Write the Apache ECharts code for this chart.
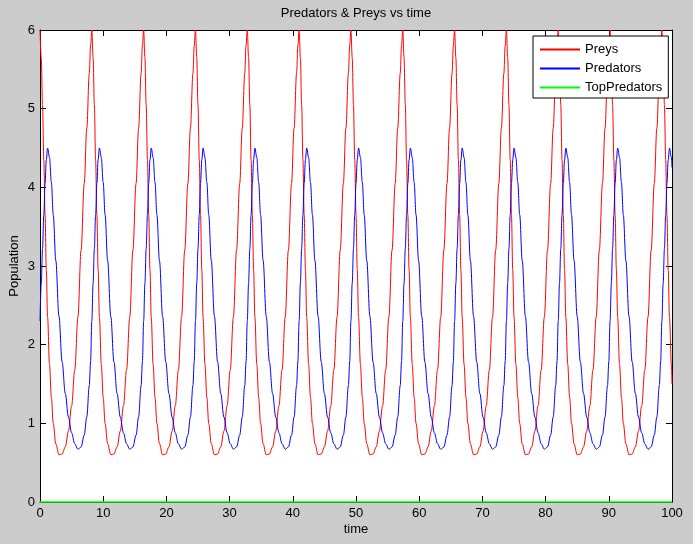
<!DOCTYPE html>
<html>
<head>
<meta charset="utf-8">
<script src="https://cdn.jsdelivr.net/npm/echarts@6/dist/echarts.min.js"></script>
<style>
html, body { margin: 0; padding: 0; background: #cccccc; }
#chart { width: 693px; height: 544px; }
</style>
</head>
<body>
<div id="chart"></div>
<script>
// ---- data ----
const titleText = 'Predators & Preys vs time';
const xName = 'time';
const yName = 'Population';
const seriesNames = ['Preys', 'Predators', 'TopPredators'];
const seriesColors = ['#ff0000', '#0000ff', '#00ff00'];
const xTicks = [0, 10, 20, 30, 40, 50, 60, 70, 80, 90, 100];
const yTicks = [0, 1, 2, 3, 4, 5, 6];

const time = [
  0, 0.2, 0.4, 0.6, 0.8, 1, 1.2, 1.5, 1.8, 2.1, 2.5, 3, 3.5, 4, 4.5, 5, 5.5, 6, 6.5, 7, 7.4, 7.8, 8,
  8.2, 8.4, 8.6, 8.8, 9, 9.2, 9.4, 9.7, 10, 10.3, 10.7, 11.2, 11.7, 12.2, 12.7, 13.2, 13.7, 14.2, 14.7, 15.2, 15.6, 16, 16.2,
  16.4, 16.6, 16.8, 17, 17.2, 17.4, 17.6, 17.9, 18.2, 18.5, 18.9, 19.4, 19.9, 20.4, 20.9, 21.4, 21.9, 22.4, 22.9, 23.4, 23.8, 24.2, 24.4,
  24.6, 24.8, 25, 25.2, 25.4, 25.6, 25.8, 26.1, 26.4, 26.7, 27.1, 27.6, 28.1, 28.6, 29.1, 29.6, 30.1, 30.6, 31.1, 31.6, 32, 32.4, 32.6,
  32.8, 33, 33.2, 33.4, 33.6, 33.8, 34, 34.3, 34.6, 34.9, 35.3, 35.8, 36.3, 36.8, 37.3, 37.8, 38.3, 38.8, 39.3, 39.8, 40.2, 40.6, 40.8,
  41, 41.2, 41.4, 41.6, 41.8, 42, 42.2, 42.5, 42.8, 43.1, 43.5, 44, 44.5, 45, 45.5, 46, 46.5, 47, 47.5, 48, 48.4, 48.8, 49,
  49.2, 49.4, 49.6, 49.8, 50, 50.2, 50.4, 50.7, 51, 51.3, 51.7, 52.2, 52.7, 53.2, 53.7, 54.2, 54.7, 55.2, 55.7, 56.2, 56.6, 57, 57.2,
  57.4, 57.6, 57.8, 58, 58.2, 58.4, 58.6, 58.9, 59.2, 59.5, 59.9, 60.4, 60.9, 61.4, 61.9, 62.4, 62.9, 63.4, 63.9, 64.4, 64.8, 65.2, 65.4,
  65.6, 65.8, 66, 66.2, 66.4, 66.6, 66.8, 67.1, 67.4, 67.7, 68.1, 68.6, 69.1, 69.6, 70.1, 70.6, 71.1, 71.6, 72.1, 72.6, 73, 73.4, 73.6,
  73.8, 74, 74.2, 74.4, 74.6, 74.8, 75, 75.3, 75.6, 75.9, 76.3, 76.8, 77.3, 77.8, 78.3, 78.8, 79.3, 79.8, 80.3, 80.8, 81.2, 81.6, 81.8,
  82, 82.2, 82.4, 82.6, 82.8, 83, 83.2, 83.5, 83.8, 84.1, 84.5, 85, 85.5, 86, 86.5, 87, 87.5, 88, 88.5, 89, 89.4, 89.8, 90,
  90.2, 90.4, 90.6, 90.8, 91, 91.2, 91.4, 91.7, 92, 92.3, 92.7, 93.2, 93.7, 94.2, 94.7, 95.2, 95.7, 96.2, 96.7, 97.2, 97.6, 98, 98.2,
  98.4, 98.6, 98.8, 99, 99.2, 99.4, 99.6, 99.9, 100
];

const preys = [
  6.00, 5.65, 5.05, 4.35, 3.65, 2.95, 2.35, 1.75, 1.33, 1.00, 0.74, 0.60, 0.61, 0.70, 0.90, 1.22, 1.68, 2.35, 3.20, 4.05, 4.75, 5.45, 5.80,
  6.00, 5.65, 5.05, 4.35, 3.65, 2.95, 2.35, 1.75, 1.33, 1.00, 0.74, 0.60, 0.61, 0.70, 0.90, 1.22, 1.68, 2.35, 3.20, 4.05, 4.75, 5.45, 5.80,
  6.00, 5.65, 5.05, 4.35, 3.65, 2.95, 2.35, 1.75, 1.33, 1.00, 0.74, 0.60, 0.61, 0.70, 0.90, 1.22, 1.68, 2.35, 3.20, 4.05, 4.75, 5.45, 5.80,
  6.00, 5.65, 5.05, 4.35, 3.65, 2.95, 2.35, 1.75, 1.33, 1.00, 0.74, 0.60, 0.61, 0.70, 0.90, 1.22, 1.68, 2.35, 3.20, 4.05, 4.75, 5.45, 5.80,
  6.00, 5.65, 5.05, 4.35, 3.65, 2.95, 2.35, 1.75, 1.33, 1.00, 0.74, 0.60, 0.61, 0.70, 0.90, 1.22, 1.68, 2.35, 3.20, 4.05, 4.75, 5.45, 5.80,
  6.00, 5.65, 5.05, 4.35, 3.65, 2.95, 2.35, 1.75, 1.33, 1.00, 0.74, 0.60, 0.61, 0.70, 0.90, 1.22, 1.68, 2.35, 3.20, 4.05, 4.75, 5.45, 5.80,
  6.00, 5.65, 5.05, 4.35, 3.65, 2.95, 2.35, 1.75, 1.33, 1.00, 0.74, 0.60, 0.61, 0.70, 0.90, 1.22, 1.68, 2.35, 3.20, 4.05, 4.75, 5.45, 5.80,
  6.00, 5.65, 5.05, 4.35, 3.65, 2.95, 2.35, 1.75, 1.33, 1.00, 0.74, 0.60, 0.61, 0.70, 0.90, 1.22, 1.68, 2.35, 3.20, 4.05, 4.75, 5.45, 5.80,
  6.00, 5.65, 5.05, 4.35, 3.65, 2.95, 2.35, 1.75, 1.33, 1.00, 0.74, 0.60, 0.61, 0.70, 0.90, 1.22, 1.68, 2.35, 3.20, 4.05, 4.75, 5.45, 5.80,
  6.00, 5.65, 5.05, 4.35, 3.65, 2.95, 2.35, 1.75, 1.33, 1.00, 0.74, 0.60, 0.61, 0.70, 0.90, 1.22, 1.68, 2.35, 3.20, 4.05, 4.75, 5.45, 5.80,
  6.00, 5.65, 5.05, 4.35, 3.65, 2.95, 2.35, 1.75, 1.33, 1.00, 0.74, 0.60, 0.61, 0.70, 0.90, 1.22, 1.68, 2.35, 3.20, 4.05, 4.75, 5.45, 5.80,
  6.00, 5.65, 5.05, 4.35, 3.65, 2.95, 2.35, 1.75, 1.33, 1.00, 0.74, 0.60, 0.61, 0.70, 0.90, 1.22, 1.68, 2.35, 3.20, 4.05, 4.75, 5.45, 5.80,
  6.00, 5.65, 5.05, 4.35, 3.65, 2.95, 2.35, 1.75, 1.50
];

const predators = [
  2.30, 2.78, 3.22, 3.65, 4.05, 4.35, 4.50, 4.38, 4.06, 3.65, 3.07, 2.36, 1.78, 1.38, 1.08, 0.88, 0.74, 0.67, 0.70, 0.85, 1.08, 1.48, 1.78,
  2.30, 2.78, 3.22, 3.65, 4.05, 4.35, 4.50, 4.38, 4.06, 3.65, 3.07, 2.36, 1.78, 1.38, 1.08, 0.88, 0.74, 0.67, 0.70, 0.85, 1.08, 1.48, 1.78,
  2.30, 2.78, 3.22, 3.65, 4.05, 4.35, 4.50, 4.38, 4.06, 3.65, 3.07, 2.36, 1.78, 1.38, 1.08, 0.88, 0.74, 0.67, 0.70, 0.85, 1.08, 1.48, 1.78,
  2.30, 2.78, 3.22, 3.65, 4.05, 4.35, 4.50, 4.38, 4.06, 3.65, 3.07, 2.36, 1.78, 1.38, 1.08, 0.88, 0.74, 0.67, 0.70, 0.85, 1.08, 1.48, 1.78,
  2.30, 2.78, 3.22, 3.65, 4.05, 4.35, 4.50, 4.38, 4.06, 3.65, 3.07, 2.36, 1.78, 1.38, 1.08, 0.88, 0.74, 0.67, 0.70, 0.85, 1.08, 1.48, 1.78,
  2.30, 2.78, 3.22, 3.65, 4.05, 4.35, 4.50, 4.38, 4.06, 3.65, 3.07, 2.36, 1.78, 1.38, 1.08, 0.88, 0.74, 0.67, 0.70, 0.85, 1.08, 1.48, 1.78,
  2.30, 2.78, 3.22, 3.65, 4.05, 4.35, 4.50, 4.38, 4.06, 3.65, 3.07, 2.36, 1.78, 1.38, 1.08, 0.88, 0.74, 0.67, 0.70, 0.85, 1.08, 1.48, 1.78,
  2.30, 2.78, 3.22, 3.65, 4.05, 4.35, 4.50, 4.38, 4.06, 3.65, 3.07, 2.36, 1.78, 1.38, 1.08, 0.88, 0.74, 0.67, 0.70, 0.85, 1.08, 1.48, 1.78,
  2.30, 2.78, 3.22, 3.65, 4.05, 4.35, 4.50, 4.38, 4.06, 3.65, 3.07, 2.36, 1.78, 1.38, 1.08, 0.88, 0.74, 0.67, 0.70, 0.85, 1.08, 1.48, 1.78,
  2.30, 2.78, 3.22, 3.65, 4.05, 4.35, 4.50, 4.38, 4.06, 3.65, 3.07, 2.36, 1.78, 1.38, 1.08, 0.88, 0.74, 0.67, 0.70, 0.85, 1.08, 1.48, 1.78,
  2.30, 2.78, 3.22, 3.65, 4.05, 4.35, 4.50, 4.38, 4.06, 3.65, 3.07, 2.36, 1.78, 1.38, 1.08, 0.88, 0.74, 0.67, 0.70, 0.85, 1.08, 1.48, 1.78,
  2.30, 2.78, 3.22, 3.65, 4.05, 4.35, 4.50, 4.38, 4.06, 3.65, 3.07, 2.36, 1.78, 1.38, 1.08, 0.88, 0.74, 0.67, 0.70, 0.85, 1.08, 1.48, 1.78,
  2.30, 2.78, 3.22, 3.65, 4.05, 4.35, 4.50, 4.38, 4.25
];

const topTime = [0, 100];
const topPredators = [0, 0];

// ---- chart ----
const FONT = '"Liberation Sans", Arial, sans-serif';
const pairs = (xs, ys) => xs.map((x, i) => [x, ys[i]]);

const xMin = xTicks[0], xMax = xTicks[xTicks.length - 1], xStep = xTicks[1] - xTicks[0];
const yMin = yTicks[0], yMax = yTicks[yTicks.length - 1], yStep = yTicks[1] - yTicks[0];

const axisCommon = {
  z: 0,
  axisLine: { show: true, onZero: false, lineStyle: { color: '#000', width: 1 } },
  axisTick: { show: true, inside: true, length: 6, lineStyle: { color: '#000', width: 1 } },
  splitLine: { show: false },
  axisLabel: { color: '#000', fontFamily: FONT, fontSize: 13, margin: 5 }
};

const chart = echarts.init(document.getElementById('chart'), null, { renderer: 'canvas' });
chart.setOption({
  animation: false,
  backgroundColor: '#cccccc',
  graphic: [{
    type: 'text',
    x: 356, y: 13,
    style: {
      text: titleText,
      fill: '#000',
      font: '13px ' + FONT,
      align: 'center',
      verticalAlign: 'middle'
    }
  }],
  grid: {
    left: 40, top: 30, width: 632, height: 472,
    containLabel: false, outerBoundsMode: 'none',
    show: true, backgroundColor: '#ffffff', borderWidth: 0
  },
  legend: {
    left: 533, top: 36,
    orient: 'vertical',
    backgroundColor: '#ffffff',
    borderColor: '#000000',
    borderWidth: 1,
    borderRadius: 0,
    padding: [6, 6, 3, 7],
    itemGap: 4,
    itemWidth: 40,
    itemHeight: 2,
    textStyle: { color: '#000', fontFamily: FONT, fontSize: 13, lineHeight: 15 },
    data: seriesNames.map((n, i) => ({
      name: n,
      icon: 'rect',
      itemStyle: { color: seriesColors[i], borderWidth: 0, opacity: 1 },
      lineStyle: { width: 0 }
    }))
  },
  xAxis: [
    Object.assign({}, axisCommon, {
      type: 'value', min: xMin, max: xMax, interval: xStep, position: 'bottom',
      name: xName, nameLocation: 'middle', nameGap: 21, nameMoveOverlap: false,
      nameTextStyle: { color: '#000', fontFamily: FONT, fontSize: 13 }
    }),
    Object.assign({}, axisCommon, {
      type: 'value', min: xMin, max: xMax, interval: xStep, position: 'top',
      axisLabel: { show: false }
    })
  ],
  yAxis: [
    Object.assign({}, axisCommon, {
      type: 'value', min: yMin, max: yMax, interval: yStep, position: 'left',
      name: yName, nameLocation: 'middle', nameGap: 19, nameMoveOverlap: false,
      nameTextStyle: { color: '#000', fontFamily: FONT, fontSize: 13 }
    }),
    Object.assign({}, axisCommon, {
      type: 'value', min: yMin, max: yMax, interval: yStep, position: 'right',
      axisLabel: { show: false }
    })
  ],
  series: [
    {
      name: seriesNames[0], type: 'line', xAxisIndex: 0, yAxisIndex: 0, z: 3,
      data: pairs(time, preys), symbol: 'none', smooth: 0.35, smoothMonotone: 'x',
      lineStyle: { color: seriesColors[0], width: 1 }, itemStyle: { color: seriesColors[0] }
    },
    {
      name: seriesNames[1], type: 'line', xAxisIndex: 0, yAxisIndex: 0, z: 4,
      data: pairs(time, predators), symbol: 'none', smooth: 0.35, smoothMonotone: 'x',
      lineStyle: { color: seriesColors[1], width: 1 }, itemStyle: { color: seriesColors[1] }
    },
    {
      name: seriesNames[2], type: 'line', xAxisIndex: 0, yAxisIndex: 0, z: 5,
      data: pairs(topTime, topPredators), symbol: 'none', clip: false,
      lineStyle: { color: seriesColors[2], width: 1.5 }, itemStyle: { color: seriesColors[2] }
    }
  ]
});
</script>
</body>
</html>
